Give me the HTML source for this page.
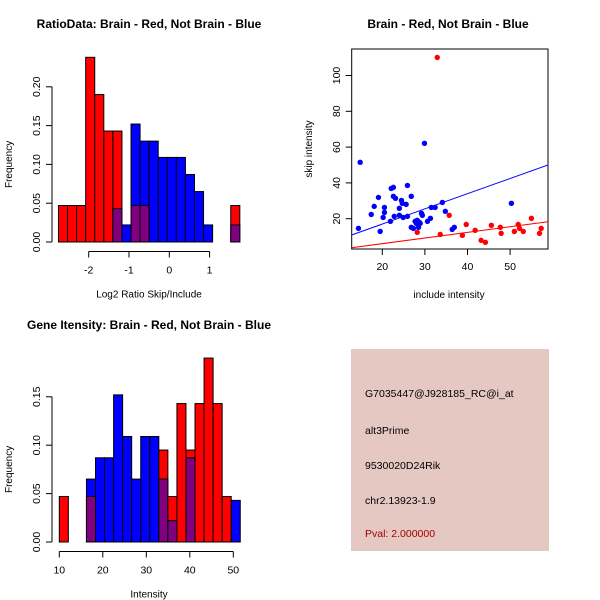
<!DOCTYPE html>
<html><head><meta charset="utf-8"><style>
body{margin:0;background:#fff}
svg{display:block;font-family:"Liberation Sans",sans-serif}
</style></head><body>
<svg id="c" width="600" height="600" xmlns="http://www.w3.org/2000/svg">
<rect width="600" height="600" fill="#fff"/>
</svg>
<script>
// Panel 1: log ratio histogram (bin start, bin width, frequencies)
const h1Start = -2.75;
const h1Width = 0.225;
const h1Red  = [0.047,0.047,0.047,0.238,0.19,0.143,0.143,0,0.047,0.047,0,0,0,0,0,0,0,0,0,0.047];
const h1Blue = [0,0,0,0,0,0,0.043,0.022,0.152,0.13,0.13,0.109,0.109,0.109,0.087,0.065,0.022,0,0,0.022];
const h1XTicks = [-2,-1,0,1];
const h1YTicks = ["0.00","0.05","0.10","0.15","0.20"];
// Panel 3: intensity histogram
const h3Start = 10;
const h3Width = 2.08;
const h3Red  = [0.047,0,0,0.047,0,0,0,0,0,0,0,0.095,0.047,0.143,0.095,0.143,0.19,0.143,0.047,0];
const h3Blue = [0,0,0,0.065,0.087,0.087,0.152,0.109,0.065,0.109,0.109,0.065,0.022,0,0.087,0,0,0,0,0.043];
const h3XTicks = [10,20,30,40,50];
const h3YTicks = ["0.00","0.05","0.10","0.15"];
// Panel 2: scatter
const blueX = [14.4,14.8,17.4,18.1,19.1,19.5,20.2,20.5,20.5,21.9,22.1,22.6,22.6,22.8,23.1,24.0,24.0,24.5,24.7,24.9,25.6,25.9,25.9,26.8,26.8,27.3,27.7,28.0,28.2,28.5,28.7,28.9,29.2,29.4,29.9,30.6,31.3,31.5,32.4,34.1,34.8,36.4,36.9,50.3];
const blueY = [14.6,51.5,22.4,26.9,31.9,12.9,20.7,26.3,23.5,18.5,36.9,37.5,32.5,21.3,31.4,25.8,21.9,30.2,28.6,20.7,28.0,21.3,38.6,32.5,15.2,14.6,18.5,17.4,19.1,15.2,18.0,17.4,23.0,21.9,62.1,18.5,20.2,26.3,26.3,29.1,24.1,14.0,15.2,28.6];
const redX = [32.9,28.2,33.6,35.7,38.8,39.7,41.8,43.2,44.2,45.6,47.7,47.9,51.0,51.9,52.2,53.1,55.0,56.9,57.3];
const redY = [110.1,12.4,11.2,21.9,10.7,16.8,13.5,7.9,6.8,16.3,15.2,11.8,12.9,16.8,14.6,12.9,20.2,11.8,14.6];
const blueLine = [10.9,50.0]; // y at x=12.8 and x=58.9
const redLine = [3.8,18.3];
const lineX = [12.8,58.9];
const scXTicks = [20,30,40,50];
const scYTicks = [20,40,60,80,100];

const NS="http://www.w3.org/2000/svg";
const svg=document.getElementById('c');
function mk(tag,attrs,parent){const e=document.createElementNS(NS,tag);for(const k in attrs)e.setAttribute(k,attrs[k]);(parent||svg).appendChild(e);return e;}
function txt(s,x,y,size,opts){const t=mk('text',Object.assign({x:x,y:y,'font-size':size,'text-anchor':'middle',fill:'#000'},opts||{}));t.textContent=s;return t;}

function hist(cfg){
  const {start,width,red,blue,xTicks,yTicks,xMin,xPx,xScale,yBase,yScale,title,xlab,titleY,xAxisY,name}=cfg;
  const g=mk('g',{});
  
  
  const X=v=>xPx+(v-xMin)*xScale;
  const Y=v=>yBase-v*yScale;
  const t=txt(title,149,titleY,12,{'font-weight':'bold'});
  
  
  for(let i=0;i<red.length;i++){
    const x0=X(start+i*width), x1=X(start+(i+1)*width);
    const r=red[i], b=blue[i];
    const bars=[];
    if(r>=b){ if(r>0)bars.push([r,'#ff0000']); if(b>0)bars.push([b,'#0000ff']); }
    else { bars.push([b,'#0000ff']); if(r>0)bars.push([r,'#ff0000']); }
    bars.forEach(([v,col],k)=>{
      const fill = k===1 ? '#800080' : col;
      const rc=mk('rect',{x:x0,y:Y(v),width:x1-x0,height:Y(0)-Y(v),fill:fill,stroke:'#000','stroke-width':1},g);
      
      
    });
  }
  const ya=mk('g',{},g);
  
  
  const yMaxV=parseFloat(yTicks[yTicks.length-1]);
  mk('line',{x1:52,x2:52,y1:Y(0),y2:Y(yMaxV),stroke:'#000'},ya);
  yTicks.forEach(s=>{const v=parseFloat(s);mk('line',{x1:46,x2:52,y1:Y(v),y2:Y(v),stroke:'#000'},ya);
    const tt=txt(s,40,Y(v),10.5,{transform:'rotate(-90 40 '+Y(v)+')'});
    
    });
  const fl=txt('Frequency',12,(Y(0)+Y(yMaxV))/2,10,{transform:'rotate(-90 12 '+(Y(0)+Y(yMaxV))/2+')'});
  
  
  const xa=mk('g',{},g);
  
  
  mk('line',{x1:X(xTicks[0]),x2:X(xTicks[xTicks.length-1]),y1:xAxisY,y2:xAxisY,stroke:'#000'},xa);
  xTicks.forEach(v=>{mk('line',{x1:X(v),x2:X(v),y1:xAxisY,y2:xAxisY+6,stroke:'#000'},xa);
    const tt=txt(String(v),X(v),xAxisY+22,10.5);
    
    });
  const xl=txt(xlab,149,xAxisY+46,10);
  
  
}

hist({start:h1Start,width:h1Width,red:h1Red,blue:h1Blue,xTicks:h1XTicks,yTicks:h1YTicks,
  xMin:-2,xPx:88.7,xScale:40.3,yBase:242,yScale:776,title:'RatioData: Brain - Red, Not Brain - Blue',
  xlab:'Log2 Ratio Skip/Include',titleY:28,xAxisY:251.5,name:'ratio-histogram'});
hist({start:h3Start,width:h3Width,red:h3Red,blue:h3Blue,xTicks:h3XTicks,yTicks:h3YTicks,
  xMin:10,xPx:59.3,xScale:4.35,yBase:542,yScale:968,title:'Gene Itensity: Brain - Red, Not Brain - Blue',
  xlab:'Intensity',titleY:329,xAxisY:551.5,name:'intensity-histogram'});

(function(){
  const g=mk('g',{});
  
  
  const X=v=>382.3+(v-20)*4.26;
  const Y=v=>218.7-(v-20)*1.79;
  const t=txt('Brain - Red, Not Brain - Blue',448,28,12,{'font-weight':'bold'});
  
  
  const box=mk('rect',{x:351.7,y:49,width:196.3,height:200,fill:'none',stroke:'#000'},g);
  
  
  const cp=mk('clipPath',{id:'scclip'},g);
  mk('rect',{x:351.7,y:49,width:196.3,height:200},cp);
  const bl=mk('line',{x1:X(lineX[0]),y1:Y(blueLine[0]),x2:X(lineX[1]),y2:Y(blueLine[1]),stroke:'#0000ff','clip-path':'url(#scclip)'},g);
  
  
  const rl=mk('line',{x1:X(lineX[0]),y1:Y(redLine[0]),x2:X(lineX[1]),y2:Y(redLine[1]),stroke:'#ff0000','clip-path':'url(#scclip)'},g);
  
  
  blueX.forEach((v,i)=>{const c=mk('circle',{cx:X(v),cy:Y(blueY[i]),r:2.7,fill:'#0000ff'},g);
    
    });
  redX.forEach((v,i)=>{const c=mk('circle',{cx:X(v),cy:Y(redY[i]),r:2.7,fill:'#ff0000'},g);
    
    });
  scXTicks.forEach(v=>{mk('line',{x1:X(v),x2:X(v),y1:249,y2:255,stroke:'#000'},g);
    const tt=txt(String(v),X(v),270,10.5);
    
    });
  scYTicks.forEach(v=>{mk('line',{x1:345.7,x2:351.7,y1:Y(v),y2:Y(v),stroke:'#000'},g);
    const tt=txt(String(v),340,Y(v),10.5,{transform:'rotate(-90 340 '+Y(v)+')'});
    
    });
  const xl=txt('include intensity',449,298,10);
  
  
  const yl=txt('skip intensity',312,149,10,{transform:'rotate(-90 312 149)'});
  
  
})();

(function(){
  const g=mk('g',{});
  
  
  mk('rect',{x:351,y:349,width:198,height:202,fill:'#e6c8c2'},g);
  const lines=[['G7035447@J928185_RC@i_at',397,'#000'],['alt3Prime',434,'#000'],['9530020D24Rik',469,'#000'],['chr2.13923-1.9',504,'#000'],['Pval: 2.000000',537,'#a00000']];
  lines.forEach(([s,y,c])=>{const t=txt(s,365,y,10.5,{'text-anchor':'start',fill:c});
    
    });
})();
</script>
</body></html>
